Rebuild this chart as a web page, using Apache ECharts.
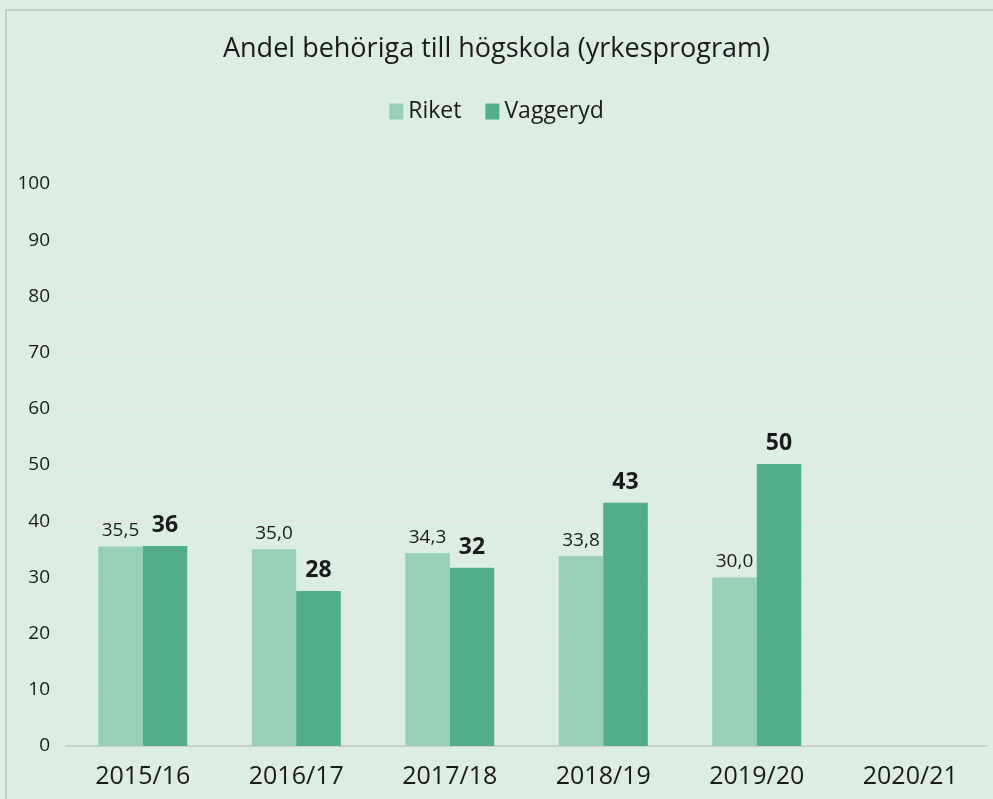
<!DOCTYPE html>
<html>
<head>
<meta charset="utf-8">
<script src="https://cdn.jsdelivr.net/npm/echarts@6/dist/echarts.min.js"></script>
<style>
  html, body { margin: 0; padding: 0; background: #dcede3; }
  #frame { position: absolute; left: 0; top: 0; width: 993px; height: 799px; background: #dcede3; }
  #border { position: absolute; left: 5px; top: 9px; width: 1000px; height: 800px; border-left: 2px solid #c3cdc7; border-top: 2px solid #c3cdc7; }
  #chart { position: absolute; left: 0; top: 0; width: 993px; height: 799px; }
</style>
</head>
<body>
<div id="frame">
  <div id="border"></div>
  <div id="chart"></div>
</div>
<script>
  // läsåren
  const categories = ['2015/16', '2016/17', '2017/18', '2018/19', '2019/20', '2020/21'];
  // andel i procent
  const riket = [35.5, 35.0, 34.3, 33.8, 30.0, null];
  const vaggeryd = [35.6, 27.6, 31.7, 43.3, 50.2, null];
  const yTicks = [0, 100, 10];

  const font = '"Open Sans", sans-serif';
  let chart = echarts.init(document.getElementById('chart'));
  chart.setOption({
    backgroundColor: 'transparent',
    title: {
      text: 'Andel behöriga till högskola (yrkesprogram)',
      left: 'center',
      top: 31,
      textStyle: { fontFamily: font, fontSize: 27, fontWeight: 'normal', color: '#1a1a1a' }
    },
    legend: {
      data: ['Riket', 'Vaggeryd'],
      top: 95,
      left: 'center',
      icon: 'rect',
      itemWidth: 14,
      itemHeight: 16,
      itemGap: 24,
      textStyle: { fontFamily: font, fontSize: 23, color: '#1a1a1a' }
    },
    grid: {
      left: 66,
      right: 6,
      top: 184,
      bottom: 53
    },
    xAxis: {
      type: 'category',
      data: categories,
      axisTick: { show: false },
      axisLine: { lineStyle: { color: '#c9cfcb', width: 2 } },
      axisLabel: { fontFamily: font, fontSize: 25, color: '#1a1a1a', margin: 18 }
    },
    yAxis: {
      type: 'value',
      min: yTicks[0],
      max: yTicks[1],
      interval: yTicks[2],
      axisLine: { show: false },
      axisTick: { show: false },
      splitLine: { lineStyle: { color: '#e3e6e4', width: 1.5 } },
      axisLabel: { fontFamily: font, fontSize: 19, color: '#1a1a1a', margin: 16 }
    },
    series: [
      {
        name: 'Riket',
        type: 'bar',
        data: riket,
        barGap: '0%',
        barCategoryGap: '42%',
        itemStyle: { color: '#98d0b6' },
        label: {
          show: true,
          position: 'top',
          distance: 6,
          fontFamily: font,
          fontSize: 19,
          color: '#1a1a1a',
          formatter: p => p.value.toFixed(1).replace('.', ',')
        }
      },
      {
        name: 'Vaggeryd',
        type: 'bar',
        data: vaggeryd,
        itemStyle: { color: '#52ae88' },
        label: {
          show: true,
          position: 'top',
          distance: 9,
          fontFamily: font,
          fontSize: 23,
          fontWeight: 'bold',
          color: '#1a1a1a',
          formatter: p => String(Math.round(p.value))
        }
      }
    ]
  });
</script>
</body>
</html>
